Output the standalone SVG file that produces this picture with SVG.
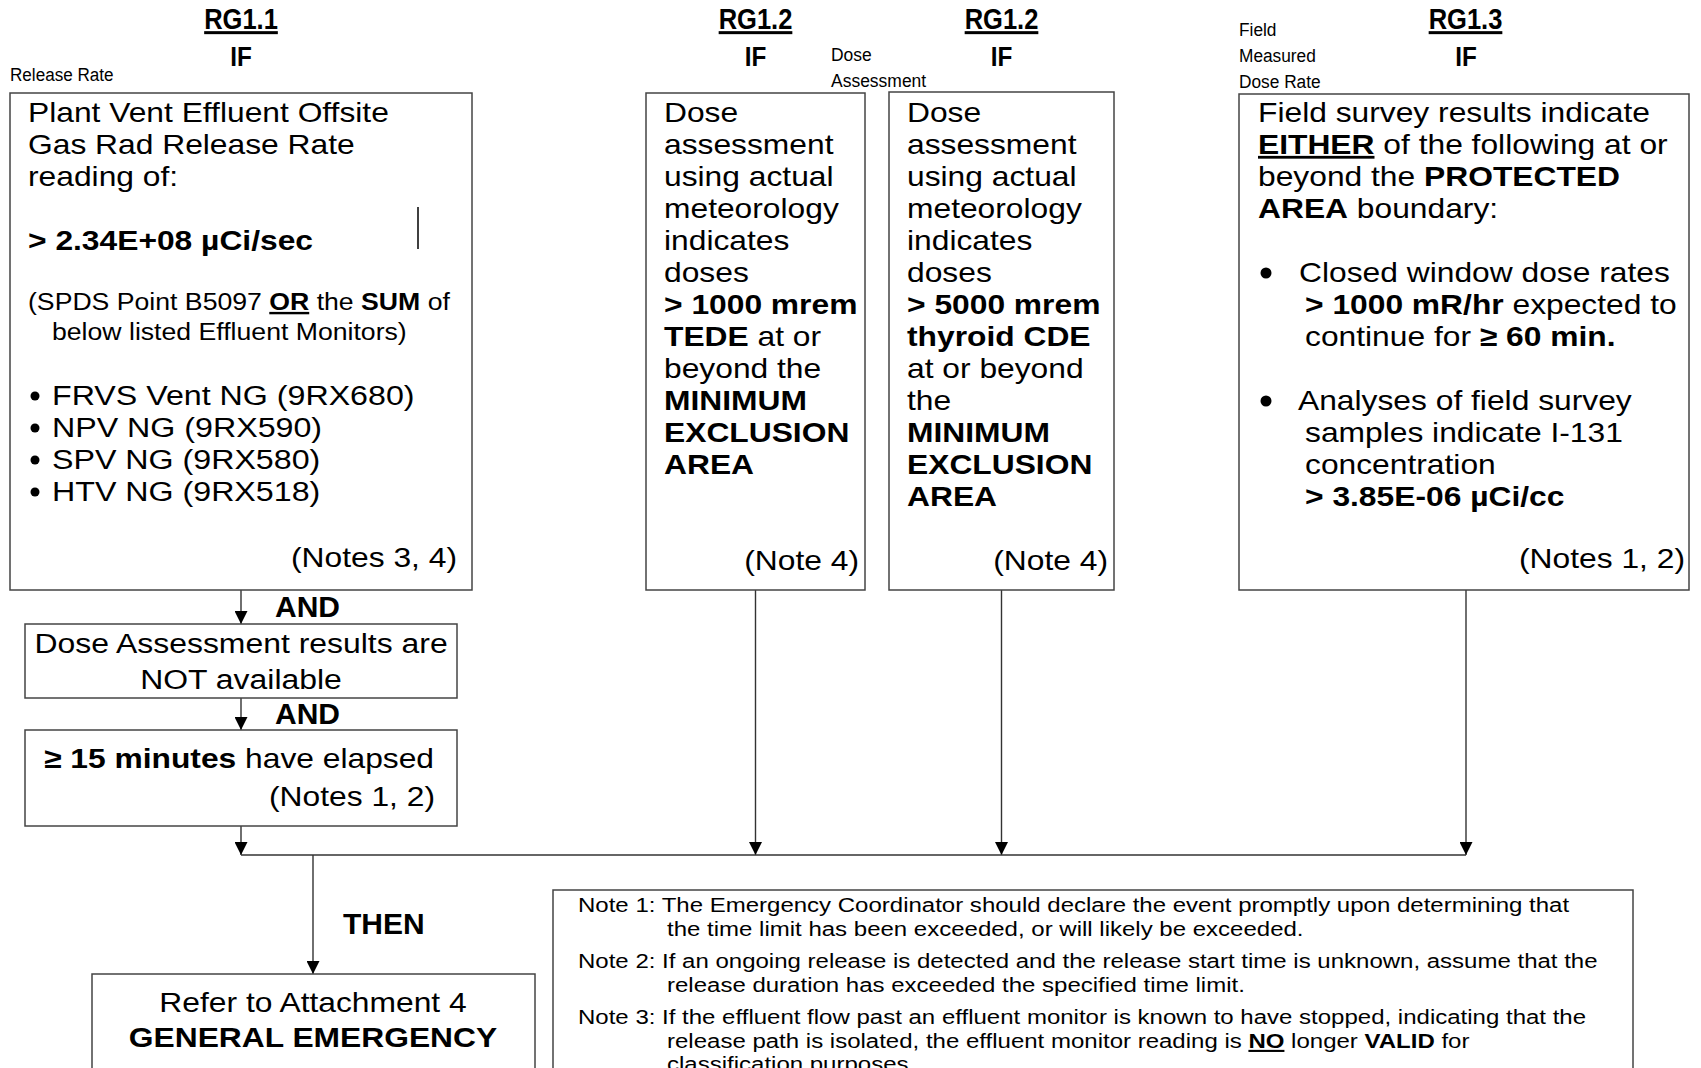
<svg xmlns="http://www.w3.org/2000/svg" width="1701" height="1068" viewBox="0 0 1701 1068">
<defs>
<style>
text{font-family:"Liberation Sans",Arial,Helvetica,sans-serif;fill:#000}
.t{font-size:28px}
.s{font-size:24px}
.n{font-size:21px}
.lbl{font-size:19px}
.h{font-size:30px;font-weight:bold}
.if{font-size:27px;font-weight:bold}
.k{font-size:30px;font-weight:bold}
.b{font-weight:bold}
.u{text-decoration:underline}
.box{fill:#fff;stroke:#444;stroke-width:1.5}
.c{fill:none;stroke:#333;stroke-width:1.4}
.dot{fill:#000}
</style>
<marker id="ah" markerUnits="userSpaceOnUse" markerWidth="13" markerHeight="13" refX="13" refY="6.5" orient="auto" viewBox="0 0 13 13"><path d="M0,0 L13,6.5 L0,13 z" fill="#000"/></marker>
</defs>
<rect width="1701" height="1068" fill="#fff"/>

<g id="headings">
<text class="h u" text-anchor="middle" transform="translate(241,29) scale(0.85,1)">RG1.1</text>
<text class="if" text-anchor="middle" transform="translate(241,66) scale(0.9,1)">IF</text>
<text class="lbl" transform="translate(10,81) scale(0.9,1)">Release Rate</text>
<text class="h u" text-anchor="middle" transform="translate(755.5,29) scale(0.85,1)">RG1.2</text>
<text class="if" text-anchor="middle" transform="translate(755.5,66) scale(0.9,1)">IF</text>
<text class="lbl" transform="translate(831,61) scale(0.92,1)">Dose</text>
<text class="lbl" transform="translate(831,87) scale(0.92,1)">Assessment</text>
<text class="h u" text-anchor="middle" transform="translate(1001.5,29) scale(0.85,1)">RG1.2</text>
<text class="if" text-anchor="middle" transform="translate(1001.5,66) scale(0.9,1)">IF</text>
<text class="lbl" transform="translate(1239,36) scale(0.91,1)">Field</text>
<text class="lbl" transform="translate(1239,62) scale(0.91,1)">Measured</text>
<text class="lbl" transform="translate(1239,88) scale(0.91,1)">Dose Rate</text>
<text class="h u" text-anchor="middle" transform="translate(1465.5,29) scale(0.85,1)">RG1.3</text>
<text class="if" text-anchor="middle" transform="translate(1466,66) scale(0.9,1)">IF</text>
</g>

<g id="connectors">
<line class="c" x1="241" y1="590" x2="241" y2="624" marker-end="url(#ah)"/>
<line class="c" x1="241" y1="698" x2="241" y2="730" marker-end="url(#ah)"/>
<line class="c" x1="241" y1="826" x2="241" y2="855" marker-end="url(#ah)"/>
<line class="c" x1="755.5" y1="590" x2="755.5" y2="855" marker-end="url(#ah)"/>
<line class="c" x1="1001.5" y1="590" x2="1001.5" y2="855" marker-end="url(#ah)"/>
<line class="c" x1="1466" y1="590" x2="1466" y2="855" marker-end="url(#ah)"/>
<line class="c" x1="241" y1="855" x2="1466" y2="855"/>
<line class="c" x1="313" y1="855" x2="313" y2="974" marker-end="url(#ah)"/>
<text class="k" transform="translate(275,617)">AND</text>
<text class="k" transform="translate(275,724)">AND</text>
<text class="k" transform="translate(343,934)">THEN</text>
</g>

<g id="box-rg11">
<rect class="box" x="10" y="93" width="462" height="497"/>
<text class="t" transform="translate(28,122) scale(1.135,1)">Plant Vent Effluent Offsite</text>
<text class="t" transform="translate(28,154) scale(1.135,1)">Gas Rad Release Rate</text>
<text class="t" transform="translate(28,186) scale(1.135,1)">reading of:</text>
<text class="t b" transform="translate(28,250) scale(1.135,1)">&gt; 2.34E+08 µCi/sec</text>
<line x1="418" y1="207" x2="418" y2="249" stroke="#000" stroke-width="1.5"/>
<text class="s" transform="translate(28,310) scale(1.11,1)">(SPDS Point B5097 <tspan class="b u">OR</tspan> the <tspan class="b">SUM</tspan> of</text>
<text class="s" transform="translate(52,340) scale(1.11,1)">below listed Effluent Monitors)</text>
<circle class="dot" cx="35" cy="396" r="4.5"/>
<circle class="dot" cx="35" cy="428" r="4.5"/>
<circle class="dot" cx="35" cy="460" r="4.5"/>
<circle class="dot" cx="35" cy="492" r="4.5"/>
<text class="t" transform="translate(52,405) scale(1.15,1)">FRVS Vent NG (9RX680)</text>
<text class="t" transform="translate(52,437) scale(1.15,1)">NPV NG (9RX590)</text>
<text class="t" transform="translate(52,469) scale(1.15,1)">SPV NG (9RX580)</text>
<text class="t" transform="translate(52,501) scale(1.15,1)">HTV NG (9RX518)</text>
<text class="t" text-anchor="end" transform="translate(457,567) scale(1.135,1)">(Notes 3, 4)</text>
</g>

<g id="box-dose-na">
<rect class="box" x="25" y="624" width="432" height="74"/>
<text class="t" text-anchor="middle" transform="translate(241,653) scale(1.14,1)">Dose Assessment results are</text>
<text class="t" text-anchor="middle" transform="translate(241,689) scale(1.14,1)">NOT available</text>
</g>

<g id="box-15min">
<rect class="box" x="25" y="730" width="432" height="96"/>
<text class="t" transform="translate(44,768) scale(1.135,1)"><tspan class="b">≥ 15 minutes</tspan> have elapsed</text>
<text class="t" text-anchor="end" transform="translate(435,806) scale(1.135,1)">(Notes 1, 2)</text>
</g>

<g id="box-rg12a">
<rect class="box" x="646" y="93" width="219" height="497"/>
<text class="t" transform="translate(664,122) scale(1.135,1)">Dose</text>
<text class="t" transform="translate(664,154) scale(1.135,1)">assessment</text>
<text class="t" transform="translate(664,186) scale(1.135,1)">using actual</text>
<text class="t" transform="translate(664,218) scale(1.135,1)">meteorology</text>
<text class="t" transform="translate(664,250) scale(1.135,1)">indicates</text>
<text class="t" transform="translate(664,282) scale(1.135,1)">doses</text>
<text class="t b" transform="translate(664,314) scale(1.135,1)">&gt; 1000 mrem</text>
<text class="t" transform="translate(664,346) scale(1.135,1)"><tspan class="b">TEDE</tspan> at or</text>
<text class="t" transform="translate(664,378) scale(1.135,1)">beyond the</text>
<text class="t b" transform="translate(664,410) scale(1.135,1)">MINIMUM</text>
<text class="t b" transform="translate(664,442) scale(1.135,1)">EXCLUSION</text>
<text class="t b" transform="translate(664,474) scale(1.135,1)">AREA</text>
<text class="t" text-anchor="end" transform="translate(859,570) scale(1.135,1)">(Note 4)</text>
</g>

<g id="box-rg12b">
<rect class="box" x="889" y="92" width="225" height="498"/>
<text class="t" transform="translate(907,122) scale(1.135,1)">Dose</text>
<text class="t" transform="translate(907,154) scale(1.135,1)">assessment</text>
<text class="t" transform="translate(907,186) scale(1.135,1)">using actual</text>
<text class="t" transform="translate(907,218) scale(1.135,1)">meteorology</text>
<text class="t" transform="translate(907,250) scale(1.135,1)">indicates</text>
<text class="t" transform="translate(907,282) scale(1.135,1)">doses</text>
<text class="t b" transform="translate(907,314) scale(1.135,1)">&gt; 5000 mrem</text>
<text class="t b" transform="translate(907,346) scale(1.135,1)">thyroid CDE</text>
<text class="t" transform="translate(907,378) scale(1.135,1)">at or beyond</text>
<text class="t" transform="translate(907,410) scale(1.135,1)">the</text>
<text class="t b" transform="translate(907,442) scale(1.135,1)">MINIMUM</text>
<text class="t b" transform="translate(907,474) scale(1.135,1)">EXCLUSION</text>
<text class="t b" transform="translate(907,506) scale(1.135,1)">AREA</text>
<text class="t" text-anchor="end" transform="translate(1108,570) scale(1.135,1)">(Note 4)</text>
</g>

<g id="box-rg13">
<rect class="box" x="1239" y="94" width="450" height="496"/>
<text class="t" transform="translate(1258,122) scale(1.135,1)">Field survey results indicate</text>
<text class="t" transform="translate(1258,154) scale(1.135,1)"><tspan class="b u">EITHER</tspan> of the following at or</text>
<text class="t" transform="translate(1258,186) scale(1.135,1)">beyond the <tspan class="b">PROTECTED</tspan></text>
<text class="t" transform="translate(1258,218) scale(1.135,1)"><tspan class="b">AREA</tspan> boundary:</text>
<circle class="dot" cx="1266" cy="273" r="5.5"/>
<text class="t" transform="translate(1299,282) scale(1.135,1)">Closed window dose rates</text>
<text class="t" transform="translate(1305,314) scale(1.135,1)"><tspan class="b">&gt; 1000 mR/hr</tspan> expected to</text>
<text class="t" transform="translate(1305,346) scale(1.135,1)">continue for <tspan class="b">≥ 60 min.</tspan></text>
<circle class="dot" cx="1266" cy="401" r="5.5"/>
<text class="t" transform="translate(1298,410) scale(1.135,1)">Analyses of field survey</text>
<text class="t" transform="translate(1305,442) scale(1.135,1)">samples indicate I-131</text>
<text class="t" transform="translate(1305,474) scale(1.135,1)">concentration</text>
<text class="t b" transform="translate(1305,506) scale(1.135,1)">&gt; 3.85E-06 µCi/cc</text>
<text class="t" text-anchor="end" transform="translate(1685,568) scale(1.135,1)">(Notes 1, 2)</text>
</g>

<g id="box-ge">
<rect class="box" x="92" y="974" width="443" height="120"/>
<text class="t" text-anchor="middle" transform="translate(313,1012) scale(1.135,1)">Refer to Attachment 4</text>
<text class="t b" text-anchor="middle" transform="translate(313,1047) scale(1.135,1)">GENERAL EMERGENCY</text>
</g>

<g id="box-notes">
<rect class="box" x="553" y="890" width="1080" height="200"/>
<text class="n" transform="translate(578,912) scale(1.144,1)">Note 1: The Emergency Coordinator should declare the event promptly upon determining that</text>
<text class="n" transform="translate(667,936) scale(1.144,1)">the time limit has been exceeded, or will likely be exceeded.</text>
<text class="n" transform="translate(578,968) scale(1.144,1)">Note 2: If an ongoing release is detected and the release start time is unknown, assume that the</text>
<text class="n" transform="translate(667,992) scale(1.144,1)">release duration has exceeded the specified time limit.</text>
<text class="n" transform="translate(578,1024) scale(1.144,1)">Note 3: If the effluent flow past an effluent monitor is known to have stopped, indicating that the</text>
<text class="n" transform="translate(667,1048) scale(1.144,1)">release path is isolated, the effluent monitor reading is <tspan class="b u">NO</tspan> longer <tspan class="b">VALID</tspan> for</text>
<text class="n" transform="translate(667,1071) scale(1.144,1)">classification purposes.</text>
</g>
</svg>
